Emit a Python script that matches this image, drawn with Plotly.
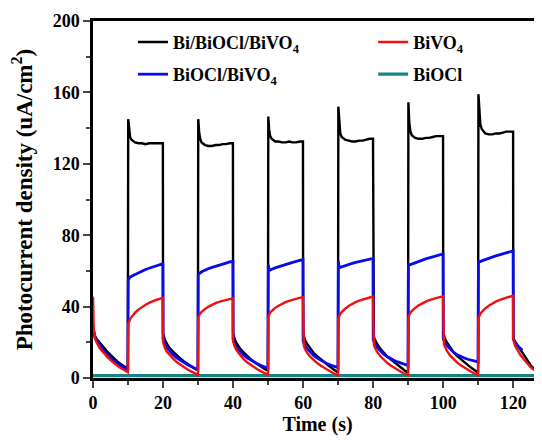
import plotly.graph_objects as go

# ---------------- data ----------------
# time offsets inside one dark (off) phase and one light (on) phase, s
OFF_T = [0, 0.2, 0.5, 1, 2, 3, 4, 5, 6, 7, 8, 9, 9.95]
ON_T = [0.05, 0.3, 0.6, 1, 1.5, 2, 3, 4, 5, 6, 7, 8, 9, 9.95]
PERIOD = 20          # one dark + one light phase
LIGHT_DELAY = 10     # light switched on 10 s after start of period

# final (truncated) dark phase after t = 120 s
LAST_OFF_T = [0, 0.2, 0.5, 1, 2, 3, 4, 5, 6, 7, 8]
BLUE_LAST_OFF_T = [0, 0.2, 0.5, 1, 2, 2.6]

# Bi/BiOCl/BiVO4 (black)
black_off = [
    [29, 26, 24, 22, 19.5, 17, 15, 13, 11, 9.2, 7.7, 6.3, 5.2],
    [25, 23, 21.5, 19.5, 16.5, 14.5, 12.5, 10.8, 9.3, 7.8, 6.5, 5.3, 4.3],
    [25, 23, 21.5, 19.5, 16.5, 14.3, 12.3, 10.6, 9, 7.5, 6.2, 5, 4],
    [25, 23, 21.5, 19.5, 16.5, 14, 12.2, 10.8, 9, 7.3, 5.8, 4.3, 3],
    [25, 23, 21.5, 19.5, 16.5, 14, 12, 10.5, 8.8, 7.2, 5.7, 4.2, 3],
    [25.5, 23.5, 22, 20, 17, 14.3, 12.2, 10.5, 8.8, 7.2, 5.7, 4.3, 3],
]
black_on = [
    [145, 139, 135, 133.5, 132.5, 132, 131.5, 131.5, 131, 131.5, 131.5, 131.5, 131.5, 131.5],
    [145, 138, 134, 132, 131, 130.5, 130, 130, 130.5, 130.5, 131, 131, 131.5, 131.5],
    [146.5, 139, 135.5, 134, 133, 132.5, 132.5, 132, 132, 132.5, 132, 132, 132.5, 132.5],
    [152, 142, 137, 135, 134, 133.5, 133, 132.5, 132.5, 133, 133, 133.5, 134, 134],
    [154.5, 143, 138.5, 136, 135, 134.5, 134, 134, 134.5, 134.5, 135, 135.5, 135.5, 135.5],
    [159, 147, 142, 139.5, 138, 137, 136.5, 136.5, 137, 137, 137.5, 138, 138, 138],
]
black_last_off = [24, 21.5, 20.5, 19, 15.5, 12.5, 9.5, 7, 5, 3.8, 2.7]

# BiVO4 (red)
red_off = [
    [45.5, 28, 23, 20, 16.5, 14, 12, 10, 8.3, 6.8, 5.5, 4.3, 3.3],
    [20, 18.5, 17, 15, 12.5, 10.5, 8.8, 7.3, 6, 4.8, 3.7, 2.7, 1.8],
    [20.5, 19, 17.5, 15.5, 12.7, 10.6, 8.8, 7.3, 6, 4.8, 3.7, 2.7, 1.8],
    [19.5, 18, 16.5, 14.5, 12, 10, 8.4, 7, 5.7, 4.5, 3.4, 2.4, 1.5],
    [20, 18.5, 17, 15, 12.3, 10.2, 8.5, 7, 5.7, 4.5, 3.4, 2.4, 1.5],
    [20.5, 19, 17.5, 15.5, 12.5, 10.3, 8.6, 7.1, 5.8, 4.6, 3.5, 2.5, 1.6],
]
red_on = [
    [30, 31.5, 33, 34.2, 35.5, 36.6, 38.3, 39.8, 41, 42.1, 43, 43.7, 44.3, 44.9],
    [34, 35.1, 36.1, 37, 38, 38.7, 40, 41.1, 41.9, 42.7, 43.3, 43.8, 44.3, 44.7],
    [34.5, 35.6, 36.7, 37.5, 38.5, 39.3, 40.5, 41.6, 42.5, 43.2, 43.9, 44.4, 44.9, 45.3],
    [33.5, 34.7, 35.9, 36.9, 38, 38.8, 40.3, 41.5, 42.5, 43.3, 44, 44.6, 45.1, 45.6],
    [34.2, 35.4, 36.5, 37.5, 38.5, 39.3, 40.7, 41.9, 42.8, 43.6, 44.3, 44.9, 45.3, 45.8],
    [33.5, 34.8, 36, 37, 38.1, 39, 40.5, 41.8, 42.8, 43.6, 44.4, 45, 45.5, 46],
]
red_last_off = [22, 19.5, 18, 16.5, 13, 10.5, 8, 6, 4.5, 3.3, 2.5]

# BiOCl/BiVO4 (blue)
blue_off = [
    [28, 25.5, 23, 21, 18, 15.5, 13.2, 11.3, 9.6, 8.1, 6.8, 5.5, 4.3],
    [22, 20.5, 19, 17.3, 14.8, 12.8, 11.2, 9.8, 8.5, 7.4, 6.4, 5.4, 4.6],
    [21.5, 20, 18.8, 17.2, 14.8, 12.9, 11.3, 10, 8.9, 7.9, 7, 6.2, 5.5],
    [20.5, 19.5, 18.3, 16.8, 14.5, 12.6, 11.1, 9.9, 8.8, 7.9, 7.1, 6.4, 5.8],
    [21.5, 20.3, 19, 17.5, 15.2, 13.4, 12, 10.8, 9.8, 9, 8.2, 7.6, 7],
    [22, 21, 19.8, 18.3, 16, 14.3, 13, 12, 11.2, 10.5, 9.9, 9.4, 9],
]
blue_on = [
    [55, 56, 56.5, 57, 57.5, 58, 59, 60, 60.8, 61.5, 62.2, 62.8, 63.4, 64],
    [58, 58.5, 59, 59.5, 60, 60.5, 61.3, 62, 62.7, 63.3, 63.9, 64.4, 65, 65.4],
    [63.5, 60.5, 60.5, 61, 61.3, 61.7, 62.4, 63, 63.6, 64.2, 64.8, 65.3, 65.8, 66.3],
    [65.4, 62, 62, 62.3, 62.7, 63, 63.6, 64.2, 64.8, 65.3, 65.8, 66.3, 66.7, 67],
    [63.5, 63.3, 63.5, 63.8, 64.2, 64.6, 65.3, 66, 66.7, 67.3, 67.9, 68.4, 69, 69.5],
    [65.2, 65, 65.2, 65.6, 66, 66.4, 67.1, 67.8, 68.4, 69, 69.6, 70.2, 70.7, 71.2],
]
blue_last_off = [22, 20.5, 19.5, 18.5, 16.5, 15.5]

# BiOCl (teal, essentially zero)
biocl_t = [0, 20, 40, 60, 80, 100, 120, 128.2]
biocl_j = [1.3, 1.3, 1.3, 1.3, 1.3, 1.3, 1.3, 1.3]

x_ticks = [0, 20, 40, 60, 80, 100, 120]
y_ticks = [0, 40, 80, 120, 160, 200]


def build(off, on, last_t, last_off):
    xs, ys = [], []
    for k in range(len(on)):
        base = k * PERIOD
        xs += [base + t for t in OFF_T]
        ys += off[k]
        xs += [base + LIGHT_DELAY + t for t in ON_T]
        ys += on[k]
    base = len(on) * PERIOD
    xs += [base + t for t in last_t]
    ys += last_off
    return xs, ys


FONT = "Liberation Serif"
fig = go.Figure()

# name, colour, width, legend id, data
series = [
    ("Bi/BiOCl/BiVO<sub>4</sub>", "#000000", 2.4, "legend",
     build(black_off, black_on, LAST_OFF_T, black_last_off)),
    ("BiVO<sub>4</sub>", "#f01010", 2.4, "legend2",
     build(red_off, red_on, LAST_OFF_T, red_last_off)),
    ("BiOCl/BiVO<sub>4</sub>", "#0a0aef", 2.8, "legend3",
     build(blue_off, blue_on, BLUE_LAST_OFF_T, blue_last_off)),
    ("BiOCl", "#168585", 3.2, "legend4", (biocl_t, biocl_j)),
]

# draw order: teal at bottom, then black, blue, red on top
draw_order = [3, 0, 2, 1]
for i in draw_order:
    name, color, w, lg, (xs, ys) = series[i]
    fig.add_trace(go.Scatter(
        x=xs, y=ys, mode="lines", name=name,
        line=dict(color=color, width=w),
        legend=lg,
    ))

legend_common = dict(
    orientation="v", xanchor="left", yanchor="top",
    font=dict(family=FONT, size=18, color="black", weight="bold"),
    bgcolor="rgba(0,0,0,0)", itemwidth=30,
)

fig.update_layout(
    width=542, height=440,
    # page body has an 8 px offset, margins compensate for it
    margin=dict(l=85, r=8, t=13, b=70, autoexpand=False),
    paper_bgcolor="white", plot_bgcolor="white",
    showlegend=True,
    legend=dict(x=0.089, y=0.992, **legend_common),
    legend2=dict(x=0.624, y=0.992, **legend_common),
    legend3=dict(x=0.089, y=0.902, **legend_common),
    legend4=dict(x=0.624, y=0.902, **legend_common),
    xaxis=dict(
        range=[0, 128.2], tickvals=x_ticks, ticks="outside", ticklen=7, tickwidth=2,
        minor=dict(dtick=10, tick0=0, ticks="outside", ticklen=4, tickwidth=2),
        showline=True, linewidth=2.5, linecolor="black", mirror=True,
        showgrid=False, zeroline=False, automargin=False,
        tickfont=dict(family=FONT, size=18, color="black", weight="bold"),
        title=dict(text="Time (s)", standoff=4,
                   font=dict(family=FONT, size=20, color="black", weight="bold")),
    ),
    yaxis=dict(
        range=[0, 200], tickvals=y_ticks, ticks="outside", ticklen=7, tickwidth=2,
        minor=dict(dtick=20, tick0=0, ticks="outside", ticklen=4, tickwidth=2),
        showline=True, linewidth=2.5, linecolor="black", mirror=False,
        showgrid=False, zeroline=False, automargin=False,
        tickfont=dict(family=FONT, size=18, color="black", weight="bold"),
        title=dict(text="Photocurrent density (uA/cm<sup>2</sup>)", standoff=20,
                   font=dict(family=FONT, size=23, color="black", weight="bold")),
    ),
)

fig.write_html("out.html")
